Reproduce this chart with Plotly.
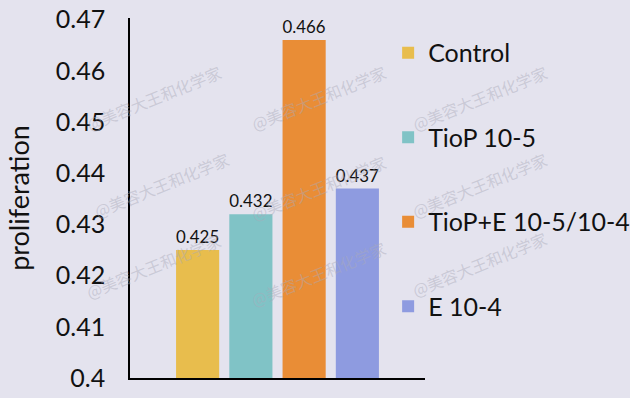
import plotly.graph_objects as go

categories = ["Control", "TioP 10-5", "TioP+E 10-5/10-4", "E 10-4"]
values = [0.425, 0.432, 0.466, 0.437]
colors = ["#E8BD4D", "#80C3C6", "#E98D36", "#8E9BE0"]
tick_vals = [0.4, 0.41, 0.42, 0.43, 0.44, 0.45, 0.46, 0.47]
tick_text = ["0.4", "0.41", "0.42", "0.43", "0.44", "0.45", "0.46", "0.47"]
watermark = "@美容大王和化学家"

BG = "#E4E3EE"
FONT = "Lato, 'Open Sans', sans-serif"

fig = go.Figure()
for i, (c, v, col) in enumerate(zip(categories, values, colors)):
    fig.add_trace(go.Bar(
        x=[""], y=[v], name=c, marker=dict(color=col, line=dict(width=0)),
        text=[f"{v:.3f}"], textposition="outside", cliponaxis=False,
        textfont=dict(size=17, color="#111111", family=FONT),
        legendgroup=f"g{i}",
    ))

# watermark positions (pixels) converted to paper coords
L, R, T, B = 130, 425, 18, 378
wm_px = [(80, 57), (88, 185), (80, 307), (318, 57), (318, 188), (318, 315),
         (553, 57), (553, 185), (553, 305)]
annotations = []
for px, py in wm_px:
    annotations.append(dict(
        x=(px - L) / (R - L), y=(B - py) / (B - T), xref="paper", yref="paper",
        text=watermark, showarrow=False, textangle=-22,
        font=dict(size=16, color="rgba(170,170,185,0.45)", family="Noto Sans CJK SC"),
    ))

fig.update_layout(
    width=630, height=398,
    margin=dict(l=L, r=630 - R, t=T, b=398 - B, autoexpand=False),
    paper_bgcolor=BG, plot_bgcolor=BG,
    barmode="group", bargap=0.278, bargroupgap=0.19,
    font=dict(family=FONT, color="#111111"),
    showlegend=True,
    legend=dict(
        x=0.875, y=0.967, xanchor="left", yanchor="top",
        font=dict(size=25, color="#111111", family=FONT),
        tracegroupgap=49, bgcolor="rgba(0,0,0,0)",
    ),
    xaxis=dict(showticklabels=False, showline=True, linecolor="#000000", linewidth=1.5,
               ticks="", showgrid=False, zeroline=False),
    yaxis=dict(range=[0.4, 0.4703], tickvals=tick_vals, ticktext=tick_text,
               showline=True, linecolor="#000000", linewidth=1.5, ticks="",
               showgrid=False, zeroline=False, ticklabelstandoff=18,
               tickfont=dict(size=25, color="#111111", family=FONT),
               title=dict(text="proliferation", font=dict(size=27, color="#111111", family=FONT),
                          standoff=18)),
    annotations=annotations,
)

fig.write_html(
    "out.html",
    config={"displayModeBar": False},
    post_script="document.body.style.margin='0';document.body.style.padding='0';",
)
